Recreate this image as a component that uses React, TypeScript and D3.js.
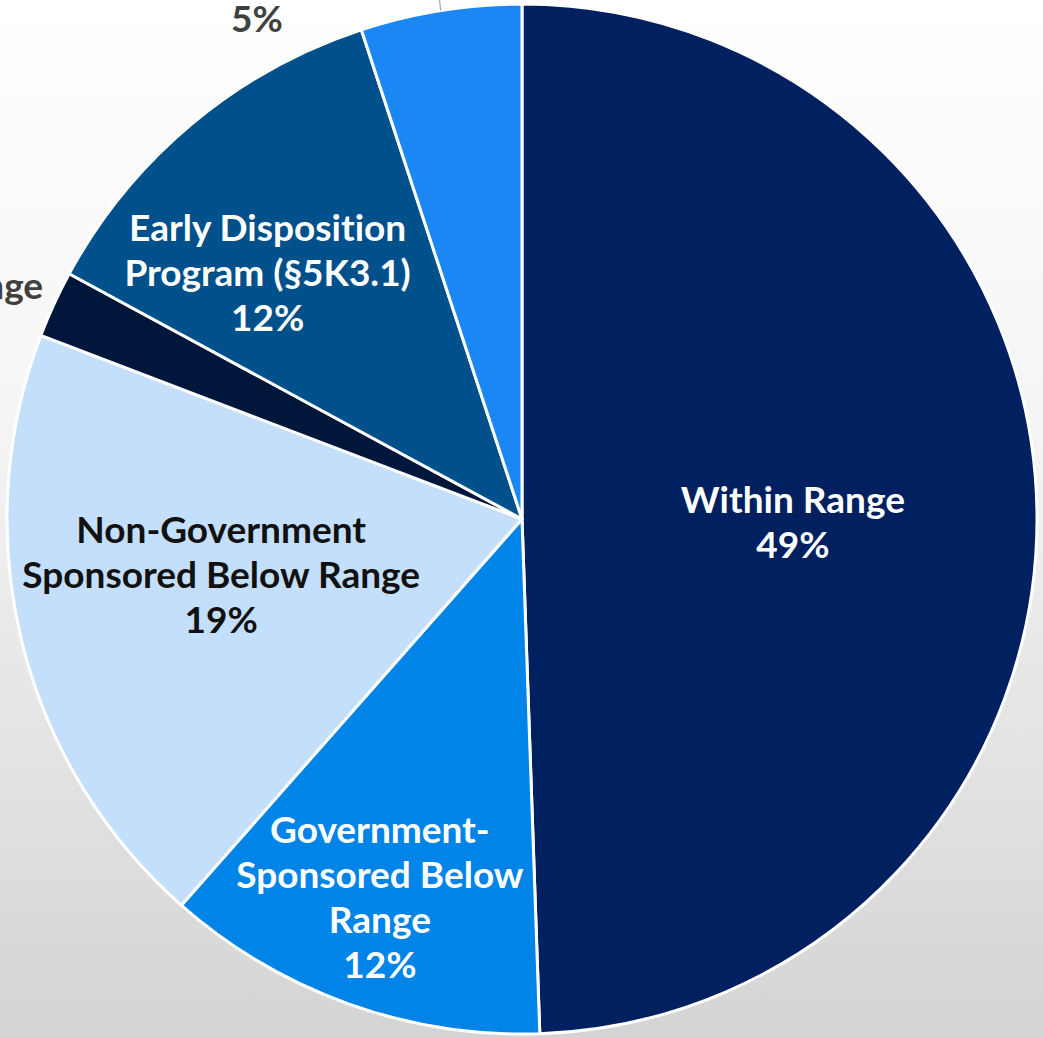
import React from "react";
import * as d3 from "d3";

// slices, clockwise from 12 o'clock
const categories = [
  "Within Range",
  "Government-Sponsored Below Range",
  "Non-Government Sponsored Below Range",
  "Above Range",
  "Early Disposition Program (§5K3.1)",
  "Substantial Assistance (§5K1.1)",
];
const values = [49.45, 12.05, 19.3, 2.1, 12.05, 5.05];
const labelLines = [
  ["Within Range"],
  ["Government-", "Sponsored Below", "Range"],
  ["Non-Government", "Sponsored Below Range"],
  ["Above Range"],
  ["Early Disposition", "Program (§5K3.1)"],
  ["Substantial Assistance (§5K1.1)"],
];
const colors = ["#00205f", "#0084e8", "#c4dffb", "#00163a", "#00508b", "#1a87f4"];
const labelColors = ["#ffffff", "#ffffff", "#111111", "#404040", "#ffffff", "#404040"];
// label placement: radius as fraction of pie radius, angle nudge in degrees
const labelRadius = [0.526, 0.784, 0.594, 1.212, 0.687, 1.138];
const labelShift = [1.6, 0.9, 3.4, -4.9, -6.1, -17.8];

export default function App() {
  const width = 1043,
    height = 1037;
  const cx = 522,
    cy = 519,
    r = 515;
  const fontSize = 37,
    lineH = 45;

  const pie = d3
    .pie<number>()
    .sort(null)
    .value((d) => d);
  const arcs = pie(values);
  const arc = d3.arc<d3.PieArcDatum<number>>().innerRadius(0).outerRadius(r);
  const total = d3.sum(values);
  const fmt = d3.format(".0%");

  return (
    <svg
      width={width}
      height={height}
      style={{ position: "absolute", left: 0, top: 0 }}
      fontFamily="Lato, 'Open Sans', sans-serif"
    >
      <defs>
        <linearGradient id="bg" x1="0" y1="0" x2="0" y2="1">
          <stop offset="0" stopColor="#ffffff" />
          <stop offset="0.4" stopColor="#f5f5f5" />
          <stop offset="1" stopColor="#d4d4d4" />
        </linearGradient>
      </defs>
      <rect width={width} height={height} fill="url(#bg)" />

      {/* 扇形 */}
      <g transform={`translate(${cx},${cy})`}>
        {arcs.map((a, i) => (
          <path
            key={categories[i]}
            d={arc(a) || ""}
            fill={colors[i]}
            stroke="#ffffff"
            strokeWidth={3}
            strokeLinejoin="round"
          />
        ))}

        {/* 引き出し線 */}
        {arcs.map((a, i) => {
          if (i !== 5) return null;
          const mid = (a.startAngle + a.endAngle) / 2;
          const x0 = r * Math.sin(mid),
            y0 = -r * Math.cos(mid);
          return (
            <polyline
              key={"leader" + i}
              points={`${x0},${y0} ${x0 - 3},${y0 - 30} ${x0 - 60},${y0 - 30}`}
              fill="none"
              stroke="#a6a6a6"
              strokeWidth={1.2}
            />
          );
        })}

        {/* ラベル */}
        {arcs.map((a, i) => {
          const mid =
            (a.startAngle + a.endAngle) / 2 + (labelShift[i] * Math.PI) / 180;
          const rr = r * labelRadius[i];
          const x = rr * Math.sin(mid),
            y = -rr * Math.cos(mid);
          const lines = [...labelLines[i], fmt(values[i] / total)];
          const first = y - ((lines.length - 1) * lineH) / 2 + fontSize * 0.36;
          return (
            <text
              key={"label" + i}
              x={x}
              textAnchor="middle"
              fontSize={fontSize}
              fontWeight="bold"
              fill={labelColors[i]}
              style={{
                fontVariantLigatures: "none",
                fontFeatureSettings: '"liga" 0, "clig" 0, "dlig" 0',
              }}
            >
              {lines.map((t, j) => (
                <tspan key={j} x={x} y={first + j * lineH}>
                  {t}
                </tspan>
              ))}
            </text>
          );
        })}
      </g>
    </svg>
  );
}
